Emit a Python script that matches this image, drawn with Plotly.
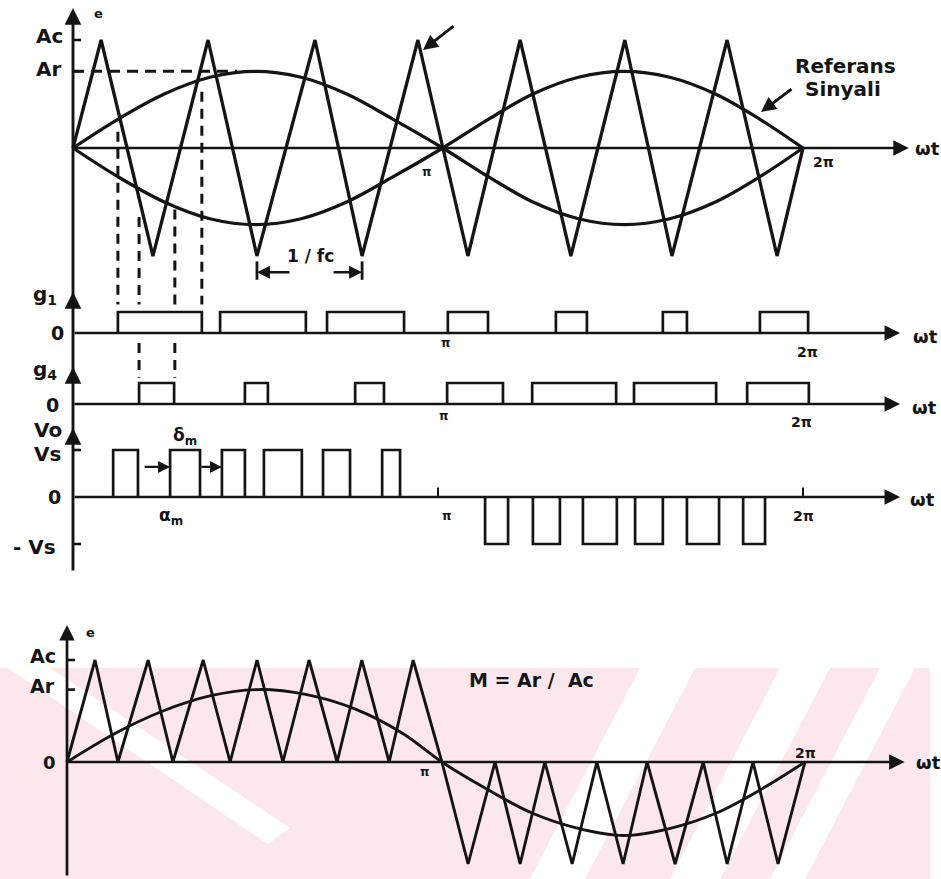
import plotly.graph_objects as go

W, H = 941, 879
INK = "#141414"
FONT = "DejaVu Sans"

# ---------------- data (x values in units of π) ----------------
# top diagram: bipolar triangular carrier (Ac = 1)
carrier_x = [0, 0.077, 0.219, 0.37, 0.504, 0.663, 0.792, 0.945, 1.082,
             1.225, 1.364, 1.512, 1.641, 1.792, 1.929, 2.0]
carrier_y = [0, 1, -1, 1, -1, 1, -1, 1, -1, 1, -1, 1, -1, 1, -1, 0]

# reference sine (Ar ≈ 0.71 Ac), read at sample points
ref_x = [0, 0.125, 0.25, 0.375, 0.5, 0.625, 0.75, 0.875, 1.013,
         1.14, 1.26, 1.385, 1.51, 1.635, 1.76, 1.88, 2.0]
ref_y = [0, 0.27, 0.50, 0.655, 0.71, 0.655, 0.50, 0.27, 0,
         -0.27, -0.50, -0.655, -0.71, -0.655, -0.50, -0.27, 0]
ref_y_neg = [0, -0.27, -0.50, -0.655, -0.71, -0.655, -0.50, -0.27, 0,
             0.27, 0.50, 0.655, 0.71, 0.655, 0.50, 0.27, 0]

# gate signals (start, end) of each pulse
g1_pulses = [(0.123, 0.353), (0.403, 0.638), (0.696, 0.907), (1.027, 1.137),
             (1.323, 1.408), (1.616, 1.682), (1.882, 2.014)]
g4_pulses = [(0.181, 0.277), (0.471, 0.534), (0.773, 0.852), (1.025, 1.178),
             (1.258, 1.488), (1.537, 1.762), (1.847, 2.016)]
# output voltage pulses (+Vs then -Vs)
vo_pos_pulses = [(0.110, 0.178), (0.266, 0.348), (0.408, 0.471), (0.523, 0.627),
                 (0.685, 0.759), (0.847, 0.896)]
vo_neg_pulses = [(1.129, 1.192), (1.260, 1.334), (1.397, 1.490), (1.540, 1.616),
                 (1.682, 1.770), (1.836, 1.896)]

# dashed guide lines (x position, top of dash in carrier units)
guide_x = [0.123, 0.181, 0.279, 0.353]
guide_top = [0.15, -0.64, -0.57, 0.52]
ar_level = 0.71
ac_level = 1.0

# bottom diagram: unipolar carrier and sine reference
bot_carrier_x = [0, 0.076, 0.138, 0.220, 0.287, 0.369, 0.442, 0.515, 0.585, 0.656,
                 0.732, 0.799, 0.873, 0.938, 1.016, 1.087, 1.160, 1.228, 1.295,
                 1.369, 1.436, 1.507, 1.572, 1.648, 1.724, 1.789, 1.859, 1.927, 2.0]
bot_carrier_y = [0, 1, 0, 1, 0, 1, 0, 1, 0, 1, 0, 1, 0, 1, 0,
                 -1, 0, -1, 0, -1, 0, -1, 0, -1, 0, -1, 0, -1, 0]
bot_ref_x = [0, 0.13, 0.26, 0.39, 0.52, 0.65, 0.78, 0.91, 1.016,
             1.14, 1.26, 1.385, 1.51, 1.635, 1.76, 1.88, 2.0]
bot_ref_y = [0, 0.28, 0.50, 0.65, 0.71, 0.66, 0.52, 0.28, 0,
             -0.27, -0.50, -0.65, -0.72, -0.65, -0.50, -0.27, 0]

# ---------------- layout geometry (pixels) ----------------
TOP_X0, TOP_S = 73, 365      # origin px, px per π
BOT_X0, BOT_S = 67, 369
AX_END_TOP = 2.29
AX_END_PULSE = 2.266
AX_END_BOT = 2.27


def xr(x0, s):
    return [-x0 / s, (W - x0) / s]


def yr(base, unit):
    return [(base - H) / unit, base / unit]


def px(x, y):
    return x / W, 1 - y / H


def pulse_path(pulses, level):
    xs, ys = [], []
    for a, b in pulses:
        xs += [a, a, b, b, None]
        ys += [0, level, level, 0, None]
    return xs, ys


fig = go.Figure()
LW = 3.3


def line(x, y, xa="x", ya="y", w=LW, dash=None, shape="linear"):
    fig.add_trace(go.Scatter(x=x, y=y, xaxis=xa, yaxis=ya, mode="lines",
                             line=dict(color=INK, width=w, dash=dash, shape=shape,
                                       smoothing=1.0 if shape == "spline" else None),
                             hoverinfo="skip", showlegend=False))


# top diagram
line(carrier_x, carrier_y)
line(ref_x, ref_y, shape="spline")
line(ref_x, ref_y_neg, shape="spline")
line([0, 0.45], [ar_level, ar_level], w=3, dash="11px,7px")
for gx, gt in zip(guide_x, guide_top):
    line([gx, gx], [gt, -1.45], w=3, dash="10px,7px")
for gx in guide_x[1:3]:
    line([gx, gx], [2.9, 1.25], ya="y3", w=3, dash="10px,7px")

# gate signals
gx1, gy1 = pulse_path(g1_pulses, 1)
line(gx1, gy1, ya="y2", w=2.7)
gx4, gy4 = pulse_path(g4_pulses, 1)
line(gx4, gy4, ya="y3", w=2.7)
vx, vy = pulse_path(vo_pos_pulses, 1)
line(vx, vy, ya="y4", w=2.7)
vx, vy = pulse_path(vo_neg_pulses, -1)
line(vx, vy, ya="y4", w=2.7)

# bottom diagram
line(bot_carrier_x, bot_carrier_y, xa="x2", ya="y5", w=2.9)
line(bot_ref_x, bot_ref_y, xa="x2", ya="y5", w=2.9, shape="spline")

ann = []


def axis_arrow(xend, xa, ya):
    ann.append(dict(x=xend, y=0, xref=xa, yref=ya, ax=0, ay=0, axref=xa, ayref=ya,
                    text="", showarrow=True, arrowhead=2, arrowsize=1.15,
                    arrowwidth=2.7, arrowcolor=INK, standoff=0))


axis_arrow(AX_END_TOP, "x", "y")
axis_arrow(AX_END_PULSE, "x", "y2")
axis_arrow(AX_END_PULSE, "x", "y3")
axis_arrow(AX_END_PULSE, "x", "y4")
axis_arrow(AX_END_BOT, "x2", "y5")


def v_arrow(xv, xa, ytip_px, length_px, w=2.9):
    ann.append(dict(x=xv, xref=xa, y=px(0, ytip_px)[1], yref="paper", ax=0, ay=length_px,
                    text="", showarrow=True, arrowhead=2, arrowsize=1.15,
                    arrowwidth=w, arrowcolor=INK, standoff=0))


# vertical axes
v_arrow(0, "x", 8, 564)
v_arrow(0, "x", 292, 14)
v_arrow(0, "x", 367, 14)
v_arrow(0, "x", 428, 14)
v_arrow(0, "x2", 625, 252, w=2.7)


def label(text, x, y, size=19, xanchor="center"):
    xx, yy = px(x, y)
    ann.append(dict(x=xx, y=yy, xref="paper", yref="paper", text="<b>%s</b>" % text,
                    showarrow=False, xanchor=xanchor, yanchor="middle",
                    font=dict(family=FONT, size=size, color=INK)))


label("e", 98, 14, 13)
label("Ac", 49, 36, 20)
label("Ar", 48, 69, 20)
label("π", 427, 172, 12)
label("2π", 823, 162, 14)
label("ωt", 927, 148, 18)
label("Referans", 845, 66, 20)
label("Sinyali", 843, 89, 20)
label("1 / fc", 310, 256, 17)

label("g<sub>1</sub>", 45, 295, 20)
label("0", 57, 333, 19)
label("π", 446, 343, 12)
label("2π", 807, 352, 14)
label("ωt", 925, 336, 18)

label("g<sub>4</sub>", 45, 370, 20)
label("0", 52, 405, 19)
label("π", 444, 416, 12)
label("2π", 801, 422, 14)
label("ωt", 924, 407, 18)

label("Vo", 48, 430, 20)
label("Vs", 47, 454, 20)
label("0", 54, 497, 19)
label("- Vs", 34, 547, 20)
label("δ<sub>m</sub>", 185, 437, 17)
label("α<sub>m</sub>", 171, 516, 17)
label("π", 447, 516, 12)
label("2π", 803, 516, 14)
label("ωt", 922, 499, 18)

label("e", 90, 632, 13)
label("Ac", 43, 656, 19)
label("Ar", 42, 686, 19)
label("0", 49, 762, 18)
label("π", 425, 772, 12)
label("2π", 805, 753, 14)
label("ωt", 928, 762, 18)
label("M = Ar /  Ac", 531, 680, 19)


def ptr(x, y, dx, dy):
    xx, yy = px(x, y)
    ann.append(dict(x=xx, y=yy, xref="paper", yref="paper", ax=dx, ay=dy,
                    text="", showarrow=True, arrowhead=2, arrowsize=1.0,
                    arrowwidth=3, arrowcolor=INK, standoff=0))


ptr(423, 50, 32, -25)      # carrier pointer
ptr(761, 112, 32, -24)     # reference pointer

# 1/fc bracket arrows (to the two carrier troughs)
for xt, d in [(carrier_x[4], 34), (carrier_x[6], -30)]:
    ann.append(dict(x=xt, y=-1.15, xref="x", yref="y", ax=d, ay=0, text="",
                    showarrow=True, arrowhead=2, arrowsize=1.0, arrowwidth=2.6,
                    arrowcolor=INK, standoff=0))
# delta_m arrows
ann.append(dict(x=vo_pos_pulses[1][0], y=0.64, xref="x", yref="y4", ax=-27, ay=0, text="",
                showarrow=True, arrowhead=2, arrowsize=1.0, arrowwidth=2.4,
                arrowcolor=INK, standoff=0))
ann.append(dict(x=vo_pos_pulses[2][0], y=0.64, xref="x", yref="y4", ax=-22, ay=0, text="",
                showarrow=True, arrowhead=2, arrowsize=1.0, arrowwidth=2.4,
                arrowcolor=INK, standoff=0))

shapes = []


def seg(x0, y0, x1, y1, xa, ya, w=2.6):
    shapes.append(dict(type="line", x0=x0, y0=y0, x1=x1, y1=y1, xref=xa, yref=ya,
                       line=dict(color=INK, width=w)))


tick_top = 8 / TOP_S
tick_bot = 8 / BOT_S
seg(0, ac_level, tick_top, ac_level, "x", "y")
seg(0, ar_level, tick_top, ar_level, "x", "y")
seg(0, 1, tick_top, 1, "x", "y4")
seg(0, -1, tick_top, -1, "x", "y4")
seg(1.0, 0, 1.0, 0.2, "x", "y4", 2)
seg(2.0, 0, 2.0, 0.2, "x", "y4", 2)
seg(0, ac_level, tick_bot, ac_level, "x2", "y5")
seg(0, ar_level, tick_bot, ar_level, "x2", "y5")
# 1/fc bracket ticks
seg(carrier_x[4], -1.05, carrier_x[4], -1.22, "x", "y", 2.8)
seg(carrier_x[6], -1.05, carrier_x[6], -1.22, "x", "y", 2.8)


# watermark (faint pink diagonal stripes)
def poly(pts, color):
    d = "M " + " L ".join("%.5f %.5f" % px(a, b) for a, b in pts) + " Z"
    shapes.append(dict(type="path", path=d, xref="paper", yref="paper", layer="below",
                       fillcolor=color, line=dict(width=0)))


PINK = "#fce8ec"
poly([(0, 668), (930, 668), (930, 879), (0, 879)], PINK)
for stripe in [[(8, 668), (50, 668), (290, 828), (268, 844)],
               [(640, 668), (695, 668), (585, 879), (530, 879)],
               [(780, 668), (830, 668), (720, 879), (670, 879)],
               [(880, 668), (915, 668), (805, 879), (770, 879)]]:
    poly(stripe, "white")

axcommon = dict(visible=False, fixedrange=True, showgrid=False, zeroline=False)
fig.update_layout(
    width=W, height=H, margin=dict(l=0, r=0, t=0, b=0),
    paper_bgcolor="white", plot_bgcolor="rgba(0,0,0,0)",
    showlegend=False,
    xaxis=dict(range=xr(TOP_X0, TOP_S), domain=[0, 1], anchor="y", **axcommon),
    xaxis2=dict(range=xr(BOT_X0, BOT_S), domain=[0, 1], anchor="y5", **axcommon),
    yaxis=dict(range=yr(148, 108), domain=[0, 1], anchor="x", **axcommon),
    yaxis2=dict(range=yr(333, 21), domain=[0, 1], anchor="x", overlaying="y", **axcommon),
    yaxis3=dict(range=yr(404, 21), domain=[0, 1], anchor="x", overlaying="y", **axcommon),
    yaxis4=dict(range=yr(497, 47), domain=[0, 1], anchor="x", overlaying="y", **axcommon),
    yaxis5=dict(range=yr(762, 102), domain=[0, 1], anchor="x2", **axcommon),
    annotations=ann, shapes=shapes,
)

fig.write_html("out.html", config={"displayModeBar": False, "staticPlot": True},
               post_script="document.body.style.margin='0';document.body.style.overflow='hidden';")
